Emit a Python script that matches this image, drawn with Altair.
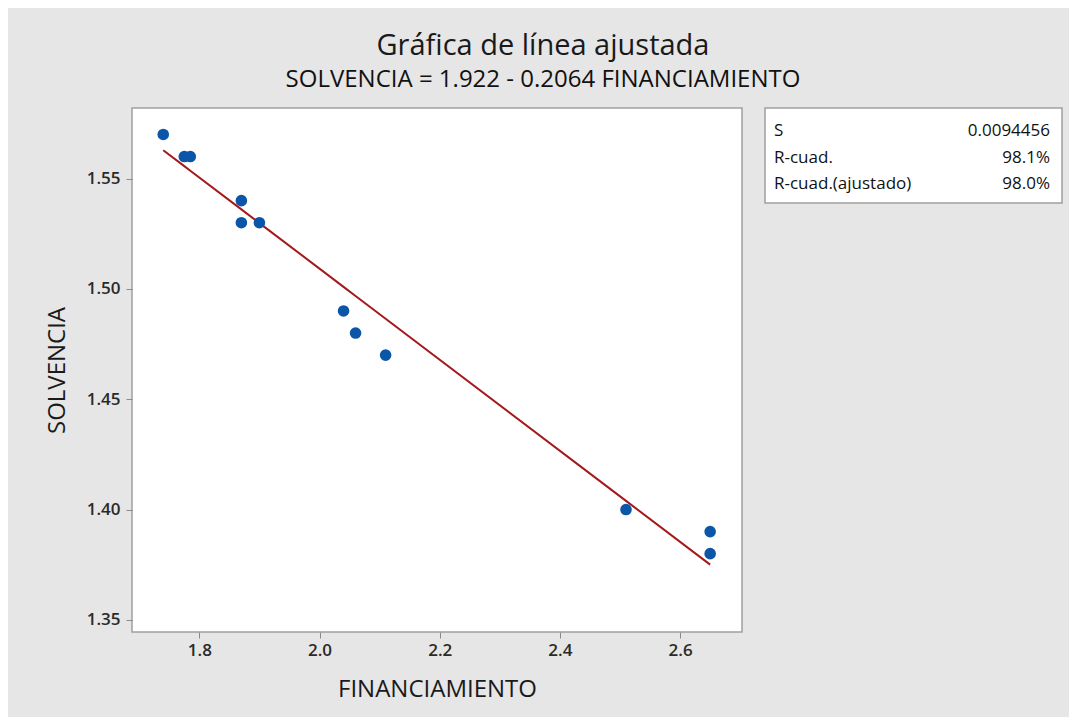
import altair as alt
import pandas as pd

# Data
financiamiento = [1.74, 1.775, 1.785, 1.87, 1.87, 1.90, 2.04, 2.06, 2.11, 2.51, 2.65, 2.65]
solvencia = [1.57, 1.56, 1.56, 1.54, 1.53, 1.53, 1.49, 1.48, 1.47, 1.40, 1.39, 1.38]
intercept = 1.922
slope = -0.2064
x_ticks = [1.8, 2.0, 2.2, 2.4, 2.6]
y_ticks = [1.35, 1.40, 1.45, 1.50, 1.55]
stat_labels = ["S", "R-cuad.", "R-cuad.(ajustado)"]
stat_values = ["0.0094456", "98.1%", "98.0%"]

FONT = "Open Sans"
W, H = 610, 524

df = pd.DataFrame({"FINANCIAMIENTO": financiamiento, "SOLVENCIA": solvencia})

xscale = alt.Scale(domain=[1.688, 2.703], nice=False, zero=False)
yscale = alt.Scale(domain=[1.3445, 1.582], nice=False, zero=False)

xaxis = alt.Axis(values=x_ticks, format=".1f", grid=False, domain=False,
                 tickColor="#8a8a8a", tickSize=6, labelFontSize=17, labelFontWeight=600,
                 labelColor="#2a2a2a", labelFont=FONT, labelPadding=4, title="FINANCIAMIENTO",
                 titleFont=FONT, titleFontSize=24, titleFontWeight="normal",
                 titleColor="#1a1a1a", titlePadding=19)
yaxis = alt.Axis(values=y_ticks, format=".2f", grid=False, domain=False,
                 tickColor="#8a8a8a", tickSize=6, labelFontSize=17, labelFontWeight=600,
                 labelColor="#2a2a2a", labelFont=FONT, labelPadding=6, title="SOLVENCIA",
                 titleFont=FONT, titleFontSize=24, titleFontWeight="normal",
                 titleColor="#1a1a1a", titlePadding=17)

base = alt.Chart(df)

points = base.mark_circle(size=135, opacity=1, color="#0B56A8").encode(
    x=alt.X("FINANCIAMIENTO:Q", scale=xscale, axis=xaxis),
    y=alt.Y("SOLVENCIA:Q", scale=yscale, axis=yaxis),
)

line = base.transform_calculate(
    fit=f"{intercept} + ({slope}) * datum.FINANCIAMIENTO"
).mark_line(color="#A3191C", strokeWidth=2).encode(
    x=alt.X("FINANCIAMIENTO:Q", scale=xscale),
    y=alt.Y("fit:Q", scale=yscale),
    order="FINANCIAMIENTO:Q",
)

stats = pd.DataFrame({"label": stat_labels, "value": stat_values, "row": [0, 1, 2]})
box_left, box_right = 633, 930
box = alt.Chart(pd.DataFrame({"a": [0]})).mark_rect(
    fill="white", stroke="#a0a0a0", strokeWidth=1.5
).encode(x=alt.value(box_left), x2=alt.value(box_right), y=alt.value(0), y2=alt.value(95))

row_y = {0: 23, 1: 50, 2: 76}
label_layers = []
for i in range(3):
    sub = stats[stats.row == i]
    label_layers.append(
        alt.Chart(sub).mark_text(align="left", baseline="middle", font=FONT, fontSize=17,
                                 color="#111").encode(
            x=alt.value(box_left + 9), y=alt.value(row_y[i]), text="label:N")
    )
    label_layers.append(
        alt.Chart(sub).mark_text(align="right", baseline="middle", font=FONT, fontSize=17,
                                 color="#111").encode(
            x=alt.value(box_right - 12), y=alt.value(row_y[i]), text="value:N")
    )

chart = alt.layer(line, points, box, *label_layers).properties(
    width=W, height=H,
    title=alt.TitleParams(
        text="Gráfica de línea ajustada",
        subtitle="SOLVENCIA = 1.922 - 0.2064 FINANCIAMIENTO",
        font=FONT, fontSize=29, fontWeight="normal", color="#1a1a1a",
        subtitleFont=FONT, subtitleFontSize=24, subtitleFontWeight="normal",
        subtitleColor="#111", subtitlePadding=7,
        anchor="middle", dx=106, offset=15, frame="group",
    ),
    background="#E6E6E6",
    padding={"left": 124, "top": 100, "right": 327, "bottom": 85},
    autosize=alt.AutoSizeParams(type="none"),
).configure_view(fill="white", stroke="#a0a0a0", strokeWidth=1.5)

chart.save("out.html", embed_options={"renderer": "svg", "actions": False})
